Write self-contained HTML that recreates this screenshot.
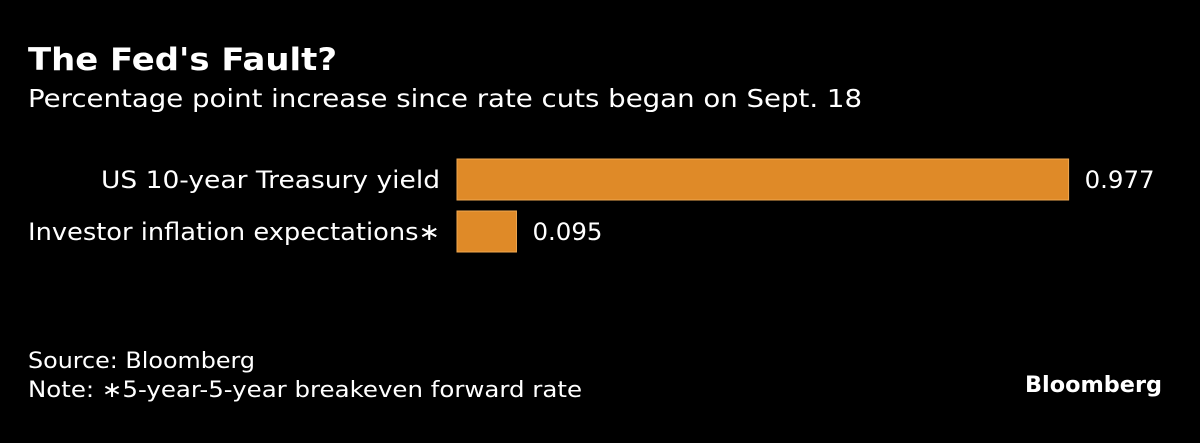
<!DOCTYPE html>
<html><head><meta charset="utf-8"><style>
body{margin:0;width:1200px;height:443px;background:#000;overflow:hidden}
svg text{font-family:"DejaVu Sans","Liberation Sans",sans-serif;fill:#fff}
</style></head><body>
<svg id="chart" width="1200" height="443" style="position:absolute;left:0;top:0">
<text x="28" y="70" font-size="31" font-weight="bold" textLength="309" lengthAdjust="spacingAndGlyphs">The Fed's Fault?</text>
<text x="28" y="107" font-size="25" textLength="834" lengthAdjust="spacingAndGlyphs">Percentage point increase since rate cuts began on Sept. 18</text>
<text x="28" y="368" font-size="22" textLength="227" lengthAdjust="spacingAndGlyphs">Source: Bloomberg</text>
<text x="28" y="397" font-size="22" textLength="554" lengthAdjust="spacingAndGlyphs">Note: ∗5-year-5-year breakeven forward rate</text>
<text x="1025" y="392" font-size="22" font-weight="bold" textLength="137" lengthAdjust="spacingAndGlyphs">Bloomberg</text>
</svg>
<script>
const categories=["US 10-year Treasury yield","Investor inflation expectations∗"];
const values=[0.977,0.095];
const labels=["0.977","0.095"];
const catWidths=[339,412];
const svg=document.getElementById('chart');
const NS='http://www.w3.org/2000/svg';
const x0=457,pxPerUnit=626;
function xs(v){return x0+v*pxPerUnit;}
function ys(i){return 159+i*52;}
categories.forEach((c,i)=>{
  const y=ys(i);
  const r=document.createElementNS(NS,'rect');
  r.setAttribute('x',xs(0));r.setAttribute('y',y);
  r.setAttribute('width',xs(values[i])-xs(0));r.setAttribute('height',41);
  r.setAttribute('fill','#df8a28');r.setAttribute('stroke','#f0a850');r.setAttribute('stroke-width','1');
  
  
  svg.appendChild(r);
  const t=document.createElementNS(NS,'text');
  t.setAttribute('x',440-catWidths[i]);t.setAttribute('y',y+29);
  t.setAttribute('font-size','24');t.setAttribute('textLength',catWidths[i]);t.setAttribute('lengthAdjust','spacingAndGlyphs');
  t.textContent=c;
  
  
  svg.appendChild(t);
  const v=document.createElementNS(NS,'text');
  v.setAttribute('x',xs(values[i])+16);v.setAttribute('y',y+29);
  v.setAttribute('font-size','24');v.setAttribute('textLength','70');v.setAttribute('lengthAdjust','spacingAndGlyphs');
  v.textContent=labels[i];
  
  
  svg.appendChild(v);
});
</script>
</body></html>
